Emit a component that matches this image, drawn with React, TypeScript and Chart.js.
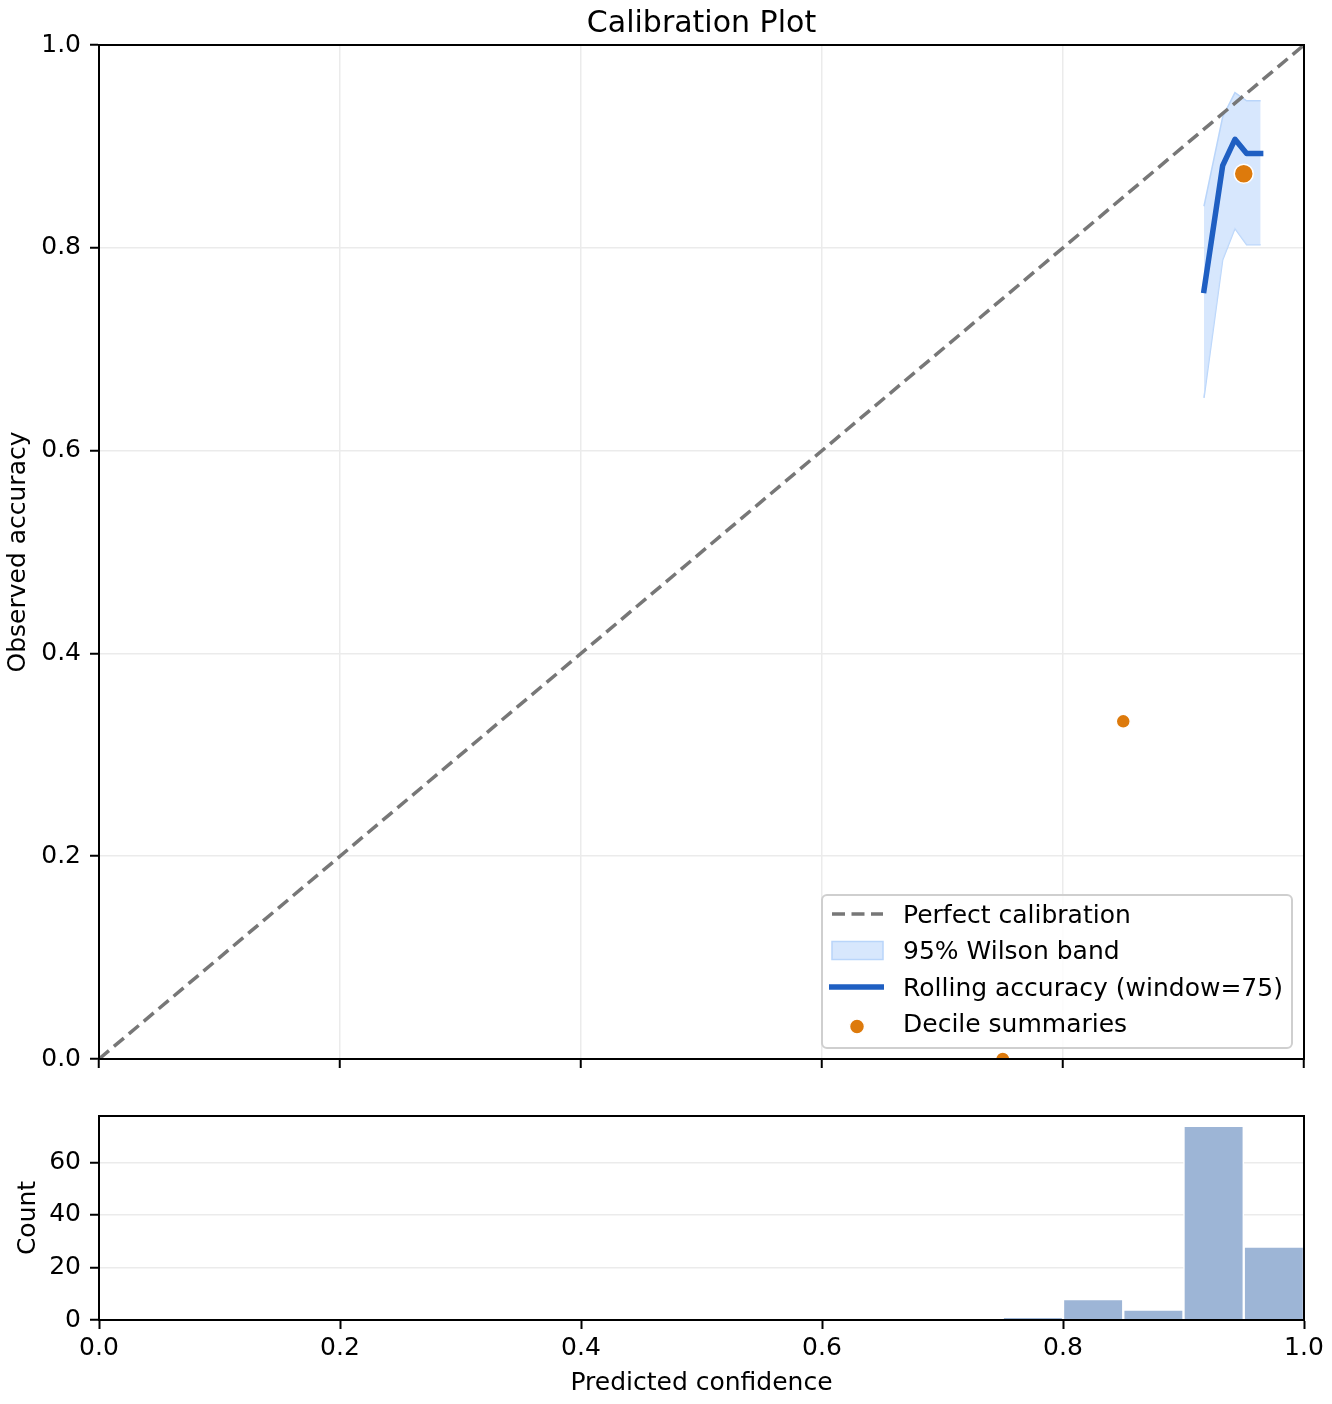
import { useEffect, useRef } from "react"
import { Chart, registerables, Plugin } from "chart.js"

Chart.register(...registerables)

// reference data
const diagonal = [0, 1]
const rollingConf = [0.917, 0.9325, 0.9427, 0.9524, 0.964]
const rollingAcc = [0.758, 0.881, 0.907, 0.893, 0.893]
const bandUpper = [0.841, 0.929, 0.953, 0.945, 0.945]
const bandLower = [0.652, 0.788, 0.819, 0.803, 0.803]
const decileConf = [0.75, 0.85, 0.95]
const decileAcc = [0.0, 0.333, 0.873]
const decileCounts = [1, 12, 102]
const histEdges = [0.75, 0.8, 0.85, 0.9, 0.95, 1.0]
const histCounts = [1, 8, 4, 74, 28]
const confTicks = [0, 0.2, 0.4, 0.6, 0.8, 1.0]
const countTicks = [0, 20, 40, 60]
const legendLabels = [
  "Perfect calibration",
  "95% Wilson band",
  "Rolling accuracy (window=75)",
  "Decile summaries",
]

const FONT = "'DejaVu Sans', sans-serif"
const GRID = "#ebebeb"
const DIAG = "#777777"
const BLUE = "#1f5fc2"
const BAND_FILL = "rgba(205, 225, 252, 0.8)"
const BAND_EDGE = "#b9d5fa"
const ORANGE = "#dd7a0c"
const HIST = "#9db5d6"

const tickFont = { family: FONT, size: 25 }

const frame: Plugin = {
  id: "frame",
  afterDraw(chart) {
    const { ctx, chartArea: a } = chart
    ctx.save()
    ctx.strokeStyle = "#000"
    ctx.lineWidth = 2
    ctx.strokeRect(a.left, a.top, a.right - a.left, a.bottom - a.top)
    ctx.restore()
  },
}

const innerLegend: Plugin = {
  id: "innerLegend",
  afterDraw(chart) {
    const { ctx, chartArea: a } = chart
    const w = 470
    const h = 153
    const x0 = a.right - 12 - w
    const y0 = a.bottom - 11 - h
    ctx.save()
    ctx.fillStyle = "rgba(255,255,255,0.85)"
    ctx.strokeStyle = "#cfcfcf"
    ctx.lineWidth = 2
    ctx.beginPath()
    ctx.roundRect(x0, y0, w, h, 5)
    ctx.fill()
    ctx.stroke()

    const rowY = (i: number) => y0 + 19 + i * 36.5
    // dashed line
    ctx.strokeStyle = DIAG
    ctx.lineWidth = 3.5
    ctx.setLineDash([13, 6.5])
    ctx.beginPath()
    ctx.moveTo(x0 + 10, rowY(0))
    ctx.lineTo(x0 + 61, rowY(0))
    ctx.stroke()
    ctx.setLineDash([])
    // band patch
    ctx.fillStyle = BAND_FILL
    ctx.strokeStyle = BAND_EDGE
    ctx.lineWidth = 1.5
    ctx.fillRect(x0 + 10, rowY(1) - 9, 51, 18)
    ctx.strokeRect(x0 + 10, rowY(1) - 9, 51, 18)
    // rolling line
    ctx.strokeStyle = BLUE
    ctx.lineWidth = 5.5
    ctx.beginPath()
    ctx.moveTo(x0 + 7, rowY(2))
    ctx.lineTo(x0 + 62, rowY(2))
    ctx.stroke()
    // decile dot
    ctx.fillStyle = ORANGE
    ctx.strokeStyle = "#fff"
    ctx.lineWidth = 1.5
    ctx.beginPath()
    ctx.arc(x0 + 35, rowY(3) + 3, 7.5, 0, Math.PI * 2)
    ctx.fill()
    ctx.stroke()

    ctx.fillStyle = "#000"
    ctx.font = `25px ${FONT}`
    ctx.textBaseline = "middle"
    ctx.textAlign = "left"
    legendLabels.forEach((t, i) => ctx.fillText(t, x0 + 81, rowY(i) + 2))
    ctx.restore()
  },
}

const App = () => {
  const mainRef = useRef<HTMLCanvasElement>(null)
  const histRef = useRef<HTMLCanvasElement>(null)

  useEffect(() => {
    if (!mainRef.current || !histRef.current) return

    const pts = (xs: number[], ys: number[]) => xs.map((x, i) => ({ x, y: ys[i] }))

    const main = new Chart(mainRef.current, {
      type: "scatter",
      data: {
        datasets: [
          {
            label: "Decile summaries",
            data: pts(decileConf, decileAcc),
            backgroundColor: ORANGE,
            borderColor: "#fff",
            borderWidth: 1.5,
            pointRadius: decileCounts.map(c => (c > 50 ? 9.5 : 7)),
            order: 0,
            clip: 0,
          },
          {
            label: "Rolling accuracy",
            type: "line",
            data: pts(rollingConf, rollingAcc),
            borderColor: BLUE,
            borderWidth: 5.5,
            borderJoinStyle: "round",
            borderCapStyle: "square",
            pointRadius: 0,
            fill: false,
            order: 1,
            clip: 0,
          },
          {
            label: "Perfect calibration",
            type: "line",
            data: pts(diagonal, diagonal),
            borderColor: DIAG,
            borderWidth: 3.5,
            borderDash: [13, 6.5],
            pointRadius: 0,
            fill: false,
            order: 2,
            clip: 0,
          },
          {
            label: "band upper",
            type: "line",
            data: pts(rollingConf, bandUpper),
            borderColor: BAND_EDGE,
            borderWidth: 1.5,
            backgroundColor: BAND_FILL,
            pointRadius: 0,
            fill: "+1",
            order: 3,
            clip: 0,
          },
          {
            label: "band lower",
            type: "line",
            data: pts(rollingConf, bandLower),
            borderColor: BAND_EDGE,
            borderWidth: 1.5,
            pointRadius: 0,
            fill: false,
            order: 4,
            clip: 0,
          },
        ],
      },
      options: {
        responsive: false,
        animation: false,
        events: [],
        layout: { padding: { top: 0, right: 28, bottom: 0, left: 0 } },
        scales: {
          x: {
            type: "linear",
            min: 0,
            max: 1,
            afterBuildTicks: s => { s.ticks = confTicks.map(value => ({ value })) },
            afterFit: s => { s.height = 31 },
            ticks: { display: false },
            grid: { color: GRID, lineWidth: 1.5, tickLength: 9, tickColor: "#000", tickWidth: 2 },
            border: { color: "#000", width: 2 },
          },
          y: {
            type: "linear",
            min: 0,
            max: 1,
            afterBuildTicks: s => { s.ticks = confTicks.map(value => ({ value })) },
            afterFit: s => { s.width = 99 },
            ticks: { font: tickFont, color: "#000", padding: 9, callback: v => Number(v).toFixed(1) },
            grid: { color: GRID, lineWidth: 1.5, tickLength: 9, tickColor: "#000", tickWidth: 2 },
            border: { color: "#000", width: 2 },
            title: {
              display: true,
              text: "Observed accuracy",
              font: tickFont,
              color: "#000",
              padding: { top: 3, bottom: 0 },
            },
          },
        },
        plugins: {
          legend: { display: false },
          tooltip: { enabled: false },
          title: {
            display: true,
            text: "Calibration Plot",
            fullSize: false,
            color: "#000",
            font: { family: FONT, size: 30, weight: "normal" },
            padding: { top: 6, bottom: 3 },
          },
        },
      },
      plugins: [frame, innerLegend],
    })

    const hist = new Chart(histRef.current, {
      type: "bar",
      data: {
        datasets: [
          {
            label: "Count",
            data: histCounts.map((c, i) => ({ x: (histEdges[i] + histEdges[i + 1]) / 2, y: c })),
            backgroundColor: HIST,
            borderColor: "#fff",
            borderWidth: 1.5,
            borderSkipped: "start",
            barPercentage: 1,
            categoryPercentage: 1,
          },
        ],
      },
      options: {
        responsive: false,
        animation: false,
        events: [],
        layout: { padding: { top: 26, right: 28, bottom: 0, left: 0 } },
        scales: {
          x: {
            type: "linear",
            offset: false,
            min: 0,
            max: 1,
            afterBuildTicks: s => { s.ticks = confTicks.map(value => ({ value })) },
            afterFit: s => { s.height = 84 },
            ticks: { font: tickFont, color: "#000", padding: 4, maxRotation: 0, callback: v => Number(v).toFixed(1) },
            grid: { offset: false, drawOnChartArea: false, tickLength: 9, tickColor: "#000", tickWidth: 2 },
            border: { color: "#000", width: 2 },
            title: {
              display: true,
              text: "Predicted confidence",
              font: tickFont,
              color: "#000",
              padding: { top: 0, bottom: 6 },
            },
          },
          y: {
            type: "linear",
            min: 0,
            max: Math.max(...histCounts) * 1.05,
            afterBuildTicks: s => { s.ticks = countTicks.map(value => ({ value })) },
            afterFit: s => { s.width = 99 },
            ticks: { font: tickFont, color: "#000", padding: 9 },
            grid: { color: GRID, lineWidth: 1.5, tickLength: 9, tickColor: "#000", tickWidth: 2 },
            border: { color: "#000", width: 2 },
            title: {
              display: true,
              text: "Count",
              font: tickFont,
              color: "#000",
              padding: { top: 13, bottom: 0 },
            },
          },
        },
        plugins: {
          legend: { display: false },
          tooltip: { enabled: false },
        },
      },
      plugins: [frame],
    })

    return () => {
      main.destroy()
      hist.destroy()
    }
  }, [])

  return (
    <div style={{ position: "absolute", left: 0, top: 0, width: 1332, height: 1404, background: "#fff" }}>
      <canvas ref={mainRef} width={1332} height={1090} style={{ position: "absolute", left: 0, top: 0 }} />
      <canvas ref={histRef} width={1332} height={314} style={{ position: "absolute", left: 0, top: 1090 }} />
    </div>
  )
}

export default App
